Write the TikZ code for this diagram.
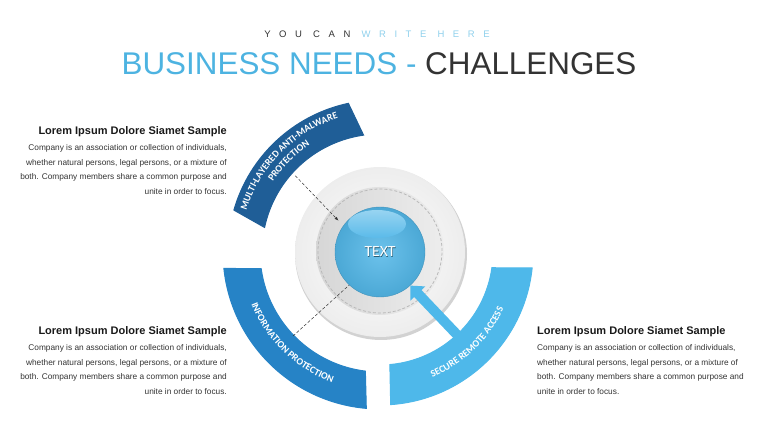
\documentclass[tikz,border=0pt]{standalone}
\usepackage{fontspec}
\setmainfont{Liberation Sans}
\newfontfamily\carlito{Carlito}
\usepackage{tikz}
\usetikzlibrary{positioning,arrows.meta,decorations.text}
\definecolor{skyblue}{HTML}{4DB3E1}
\definecolor{darktxt}{HTML}{333333}
\definecolor{lightsub}{HTML}{8FD0EC}
\definecolor{bandDark}{HTML}{1F5E97}
\definecolor{bandMid}{HTML}{2683C6}
\definecolor{bandLight}{HTML}{4EB8EA}
\definecolor{ballBlue}{HTML}{52B7E8}

\begin{document}
\begin{tikzpicture}[
  x=1pt, y=1pt,
  hd/.style={font=\fontsize{11}{13}\selectfont\bfseries, text=black!90, inner sep=0pt},
  bd/.style={font=\fontsize{8.3}{14.5}\selectfont, text=darktxt, inner sep=0pt},
  band/.style={draw=gray!30, line width=1pt},
  bandlbl/.style={decorate, decoration={text along path, text align=center,
    text={|\carlito\bfseries\fontsize{9.8}{10}\selectfont\color{white}|#1}}},
  dashline/.style={densely dashed, gray!40!black, line width=0.5pt},
  bigarrow/.style={bandLight, line width=10pt, -{Triangle[length=11pt, width=20pt]}}
]
\useasboundingbox (0,0) rectangle (760,428);

% titles
\node[anchor=base, inner sep=0pt] (sub) at (377,390)
  {\fontsize{9.5}{11}\selectfont\addfontfeature{LetterSpace=90}\color{darktxt}YOU CAN \color{lightsub}WRITE HERE};
\node[anchor=base, inner sep=0pt] (title) at (379,353)
  {\fontsize{31.4}{36}\selectfont\color{skyblue}BUSINESS NEEDS - \color{darktxt}CHALLENGES};

% text blocks
\node[hd, anchor=base east] (hd1) at (227,293) {Lorem Ipsum Dolore Siamet Sample};
\node[bd, align=right, below left=7pt and 0pt of hd1.south east] (bd1)
  {Company is an association or collection of individuals,\\
   whether natural persons, legal persons, or a mixture of\\
   both. Company members share a common purpose and\\
   unite in order to focus.};
\node[hd, anchor=base east] (hd2) at (227,93) {Lorem Ipsum Dolore Siamet Sample};
\node[bd, align=right, below left=7pt and 0pt of hd2.south east] (bd2)
  {Company is an association or collection of individuals,\\
   whether natural persons, legal persons, or a mixture of\\
   both. Company members share a common purpose and\\
   unite in order to focus.};
\node[hd, anchor=base west] (hd3) at (537,93) {Lorem Ipsum Dolore Siamet Sample};
\node[bd, align=left, below right=7pt and 0pt of hd3.south west] (bd3)
  {Company is an association or collection of individuals,\\
   whether natural persons, legal persons, or a mixture of\\
   both. Company members share a common purpose and\\
   unite in order to focus.};

\coordinate (c) at (380,176);
\begin{scope}[shift={(c)}]
  % bands
  \fill[band, bandDark] (102:152) arc[start angle=102, end angle=164, radius=152]
    -- (168:118) arc[start angle=168, end angle=98, radius=118] -- cycle;
  \fill[band, bandMid] (186:157) arc[start angle=186, end angle=265, radius=157]
    -- (263:120) arc[start angle=263, end angle=188, radius=120] -- cycle;
  \fill[band, bandLight] (274:153) arc[start angle=274, end angle=354, radius=153]
    -- (352:113) arc[start angle=352, end angle=275, radius=113] -- cycle;
  \path[bandlbl={MULTI-LAYERED ANTI-MALWARE}] (170:140) arc[start angle=170, end angle=100, radius=140];
  \path[bandlbl={PROTECTION}] (170:128) arc[start angle=170, end angle=100, radius=128];
  \path[bandlbl={INFORMATION PROTECTION}] (190:139) arc[start angle=190, end angle=262, radius=139];
  \path[bandlbl={SECURE REMOTE ACCESS}] (278:136) arc[start angle=278, end angle=350, radius=136];
  \coordinate (mlp-in) at (138:114);
  \coordinate (ring-tl) at (143:52);
  \coordinate (ip-in) at (224:121);
  \coordinate (sra-in) at (313:120);

  % discs
  \fill[gray!35] (1,-2) circle[radius=86];
  \shade[inner color=white, outer color=gray!14] (0,0) circle[radius=85];
  \shade[left color=gray!32, right color=gray!14] (0,1) circle[radius=64];
  \draw[gray!55, densely dashed, line width=0.8pt] (0,1) circle[radius=62];
  \node[circle, minimum size=90pt, inner sep=0pt, draw=ballBlue!80!black,
    inner color=ballBlue!85!white, outer color=ballBlue!92!black] (ball) at (0,0) {};
  \shade[top color=ballBlue!60!white, bottom color=ballBlue!95!white] (-3,28) ellipse[x radius=29, y radius=14];
  \node[text=ballBlue!50!black, font=\carlito\fontsize{15.5}{17}\selectfont] (lblshadow) at (0.6,-0.8) {TEXT};
  \node[text=white, font=\carlito\fontsize{15.5}{17}\selectfont] (lbl) at (ball) {TEXT};
\end{scope}

% connectors
\draw[dashline, -{Latex[length=4pt, width=3pt]}] (mlp-in) -- (ring-tl);
\draw[dashline] (ip-in) -- (ball.227);
\draw[bigarrow] (sra-in) -- (ball.312);
\end{tikzpicture}
\end{document}
